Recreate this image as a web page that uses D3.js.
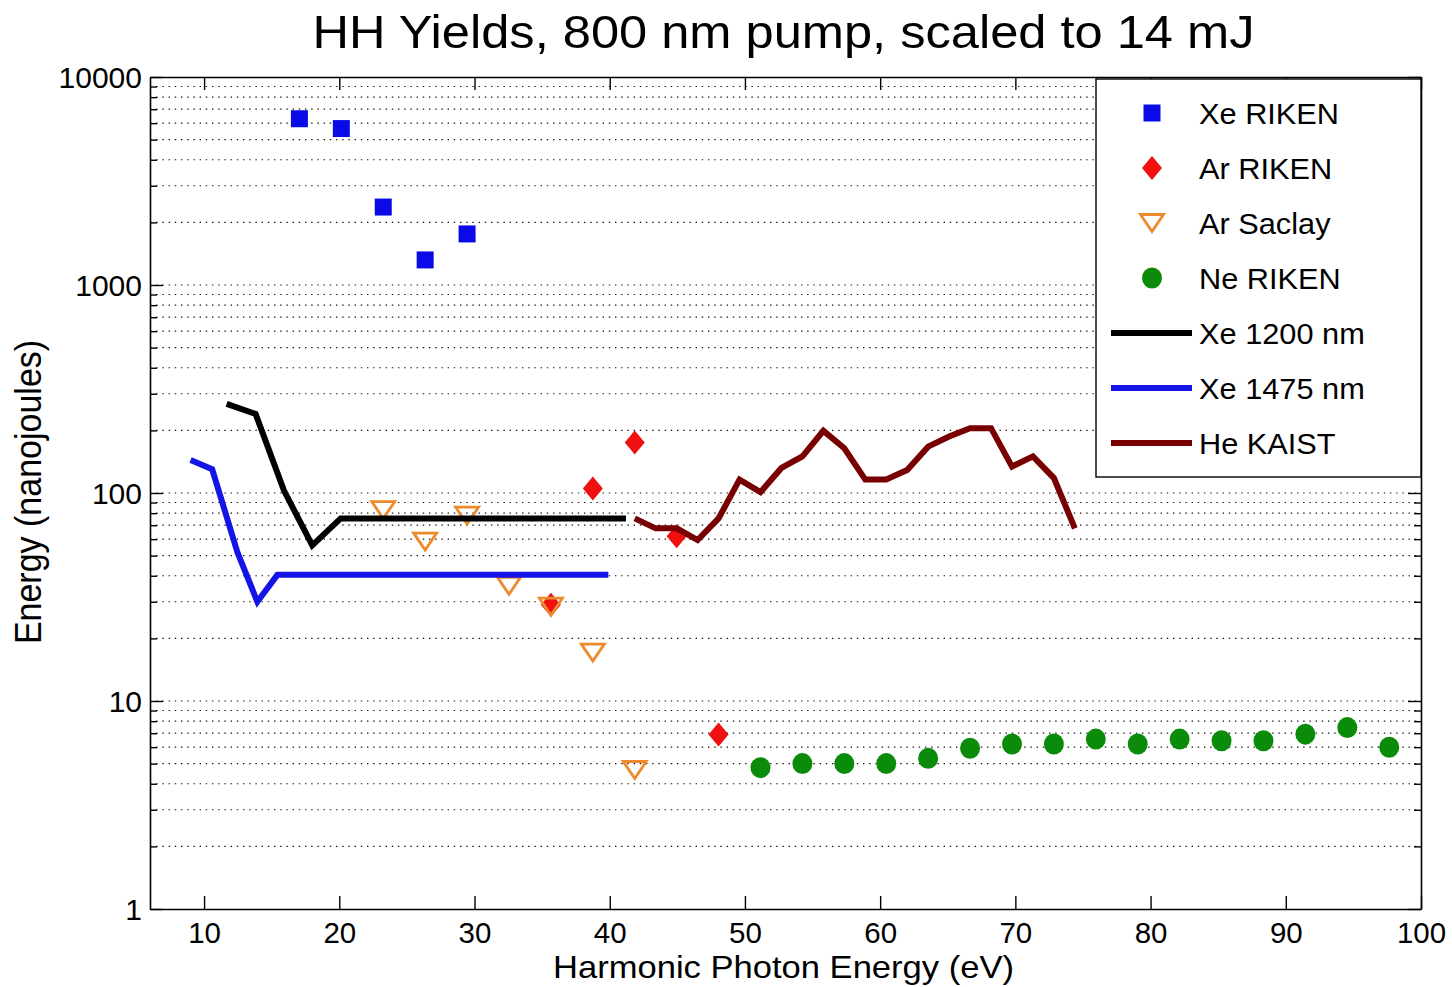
<!DOCTYPE html>
<html>
<head>
<meta charset="utf-8">
<script src="https://cdn.jsdelivr.net/npm/d3@7"></script>
<style>
  body { margin: 0; background: #fff; }
  svg text { font-family: "Liberation Sans", Arial, Helvetica, sans-serif; fill: #000; }
</style>
</head>
<body>
<svg id="chart" width="1452" height="987"></svg>
<script>
// ---- data (harmonic photon energy in eV, pulse energy in nJ) ----
const xeRikenX = [17.05, 20.15, 23.25, 26.35, 29.45];
const xeRikenY = [6300, 5650, 2370, 1320, 1760];

const arRikenX = [35.65, 38.75, 41.85, 44.95, 48.05];
const arRikenY = [29, 105, 175, 62, 6.9];

const arSaclayX = [23.25, 26.35, 29.45, 32.55, 35.65, 38.75, 41.85];
const arSaclayY = [82.8, 58.4, 77.9, 35.8, 28.4, 17.1, 4.66];

const neRikenX = [51.15, 54.25, 57.35, 60.45, 63.55, 66.65, 69.75, 72.85,
                  75.95, 79.05, 82.15, 85.25, 88.35, 91.45, 94.55, 97.65];
const neRikenY = [4.78, 5.0, 5.0, 5.0, 5.3, 5.93, 6.21, 6.21,
                  6.56, 6.21, 6.56, 6.44, 6.44, 6.93, 7.45, 5.99];

const xe1200X = [11.67, 13.81, 15.9, 18.0, 20.1, 41.2];
const xe1200Y = [268, 240, 103, 56, 75.5, 75.5];

const xe1475X = [9.0, 10.6, 12.46, 13.94, 15.42, 39.9];
const xe1475Y = [144, 130, 52, 30, 40.4, 40.4];

const heKaistX = [41.85, 43.4, 44.95, 46.5, 48.05, 49.6, 51.15, 52.7, 54.25, 55.8, 57.35,
                  58.9, 60.45, 62.0, 63.55, 65.1, 66.65, 68.2, 69.75, 71.3, 72.85, 74.4];
const heKaistY = [75.5, 67.6, 67.6, 59.4, 75.5, 116, 101, 132, 150, 199, 164,
                  116, 116, 129, 167, 187, 205, 205, 134, 150, 118, 67.6];

const xTicks = [10, 20, 30, 40, 50, 60, 70, 80, 90, 100];
const yTicks = [1, 10, 100, 1000, 10000];
const yTickLabels = ["1", "10", "100", "1000", "10000"];

const legendLabels = ["Xe RIKEN", "Ar RIKEN", "Ar Saclay", "Ne RIKEN",
                      "Xe 1200 nm", "Xe 1475 nm", "He KAIST"];

const titleText = "HH Yields, 800 nm pump, scaled to 14 mJ";
const xLabel = "Harmonic Photon Energy (eV)";
const yLabel = "Energy (nanojoules)";

// ---- styling ----
const C = {
  square: "#0a0ae6",
  diamond: "#f01010",
  tri: "#ec8a2c",
  circle: "#0a8c0a",
  xe1200: "#000000",
  xe1475: "#1414e6",
  he: "#780000"
};

const svg = d3.select("#chart");
svg.append("rect").attr("width", 1452).attr("height", 987).attr("fill", "#fff");

const L = 150, R = 1421, T = 77, B = 909;
const x = d3.scaleLinear().domain([6, 100]).range([L, R]);
const y = d3.scaleLog().domain([1, 10000]).range([B, T]);

// minor log positions 2..9 within each decade
const minorTicks = [];
[1, 10, 100, 1000].forEach(d => d3.range(2, 10).forEach(m => minorTicks.push(d * m)));

// dotted horizontal grid
const grid = svg.append("g");
grid.selectAll("line")
  .data(minorTicks.concat([10, 100, 1000]))
  .join("line")
  .attr("x1", L).attr("x2", R)
  .attr("y1", d => y(d)).attr("y2", d => y(d))
  .attr("stroke", "#111").attr("stroke-width", 1.2)
  .attr("stroke-dasharray", "1.4,4.8");

// axes
function styleAxis(g) {
  g.attr("font-size", null).attr("font-family", null);
  g.selectAll("path.domain").attr("stroke", "#000").attr("stroke-width", 1.6);
  g.selectAll(".tick line").attr("stroke", "#000").attr("stroke-width", 1.4);
}

const gBottom = svg.append("g").attr("transform", `translate(0,${B})`)
  .call(d3.axisBottom(x).tickValues(xTicks).tickSizeInner(-13).tickSizeOuter(0).tickFormat(d3.format("d")))
  .call(styleAxis);
gBottom.selectAll(".tick text")
  .attr("y", 34).attr("dy", 0)
  .attr("font-size", 29.5);

svg.append("g").attr("transform", `translate(0,${T})`)
  .call(d3.axisTop(x).tickValues(xTicks).tickSizeInner(-13).tickSizeOuter(0).tickFormat(""))
  .call(styleAxis);

const gLeft = svg.append("g").attr("transform", `translate(${L},0)`)
  .call(d3.axisLeft(y).tickValues(yTicks).tickSizeInner(-13).tickSizeOuter(0)
    .tickFormat((d, i) => yTickLabels[i]))
  .call(styleAxis);
gLeft.selectAll(".tick text")
  .attr("x", -8).attr("dy", "0.36em")
  .attr("font-size", 30);

svg.append("g").attr("transform", `translate(${L},0)`)
  .call(d3.axisLeft(y).tickValues(minorTicks).tickSizeInner(-7).tickSizeOuter(0).tickFormat(""))
  .call(styleAxis).call(g => g.select("path.domain").remove());

svg.append("g").attr("transform", `translate(${R},0)`)
  .call(d3.axisRight(y).tickValues(yTicks).tickSizeInner(-13).tickSizeOuter(0).tickFormat(""))
  .call(styleAxis);

svg.append("g").attr("transform", `translate(${R},0)`)
  .call(d3.axisRight(y).tickValues(minorTicks).tickSizeInner(-7).tickSizeOuter(0).tickFormat(""))
  .call(styleAxis).call(g => g.select("path.domain").remove());

// ---- marker shapes ----
const squarePath = (s) => `M${-s/2},${-s/2}h${s}v${s}h${-s}Z`;
const diamondPath = (w, h) => `M0,${-h}L${w},0L0,${h}L${-w},0Z`;
const triPath = (w, h) => `M${-w},${-h}L${w},${-h}L0,${h}Z`;

const zip = (xs, ys) => xs.map((v, i) => [v, ys[i]]);

const marks = svg.append("g");

marks.selectAll("path.sq").data(zip(xeRikenX, xeRikenY)).join("path")
  .attr("class", "sq")
  .attr("transform", d => `translate(${x(d[0])},${y(d[1])})`)
  .attr("d", squarePath(17)).attr("fill", C.square);

marks.selectAll("path.dm").data(zip(arRikenX, arRikenY)).join("path")
  .attr("class", "dm")
  .attr("transform", d => `translate(${x(d[0])},${y(d[1])})`)
  .attr("d", diamondPath(10, 12)).attr("fill", C.diamond);

marks.selectAll("path.tr").data(zip(arSaclayX, arSaclayY)).join("path")
  .attr("class", "tr")
  .attr("transform", d => `translate(${x(d[0])},${y(d[1])})`)
  .attr("d", triPath(11.5, 8.5)).attr("fill", "none")
  .attr("stroke", C.tri).attr("stroke-width", 2.8).attr("stroke-linejoin", "miter");

marks.selectAll("ellipse.ci").data(zip(neRikenX, neRikenY)).join("ellipse")
  .attr("class", "ci")
  .attr("cx", d => x(d[0])).attr("cy", d => y(d[1]))
  .attr("rx", 10).attr("ry", 10.5).attr("fill", C.circle);

// ---- line series ----
const line = d3.line().x(d => x(d[0])).y(d => y(d[1]));
const lines = [
  [zip(xe1200X, xe1200Y), C.xe1200],
  [zip(xe1475X, xe1475Y), C.xe1475],
  [zip(heKaistX, heKaistY), C.he]
];
svg.append("g").selectAll("path").data(lines).join("path")
  .attr("d", d => line(d[0]))
  .attr("fill", "none")
  .attr("stroke", d => d[1])
  .attr("stroke-width", 6)
  .attr("stroke-linejoin", "miter")
  .attr("stroke-miterlimit", 3);

// ---- legend ----
const lg = svg.append("g");
lg.append("rect")
  .attr("x", 1096).attr("y", 79).attr("width", R - 1096).attr("height", 398)
  .attr("fill", "#fff").attr("stroke", "#000").attr("stroke-width", 1.4);

const rowY = i => 113 + i * 55;
const mx = 1152;
legendLabels.forEach((lab, i) => {
  const cy = rowY(i);
  if (i === 0) lg.append("path").attr("transform", `translate(${mx},${cy})`).attr("d", squarePath(17)).attr("fill", C.square);
  if (i === 1) lg.append("path").attr("transform", `translate(${mx},${cy})`).attr("d", diamondPath(10, 12)).attr("fill", C.diamond);
  if (i === 2) lg.append("path").attr("transform", `translate(${mx},${cy})`).attr("d", triPath(11.5, 8.5))
    .attr("fill", "none").attr("stroke", C.tri).attr("stroke-width", 2.8);
  if (i === 3) lg.append("ellipse").attr("cx", mx).attr("cy", cy).attr("rx", 10).attr("ry", 10.5).attr("fill", C.circle);
  if (i >= 4) {
    const col = [C.xe1200, C.xe1475, C.he][i - 4];
    lg.append("line").attr("x1", 1111).attr("x2", 1192).attr("y1", cy).attr("y2", cy)
      .attr("stroke", col).attr("stroke-width", 6);
  }
  lg.append("text")
    .attr("transform", `translate(1199,${cy + 10.5}) scale(1.06,1)`)
    .attr("font-size", 29)
    .text(lab);
});

// ---- titles ----
svg.append("text")
  .attr("transform", `translate(${(L + R) / 2 - 2},48) scale(1.1,1)`)
  .attr("text-anchor", "middle").attr("font-size", 46)
  .text(titleText);

svg.append("text")
  .attr("transform", `translate(${(L + R) / 2 - 2},978) scale(1.08,1)`)
  .attr("text-anchor", "middle").attr("font-size", 32)
  .text(xLabel);

svg.append("text")
  .attr("transform", `translate(41,492) scale(1.1,1) rotate(-90)`)
  .attr("text-anchor", "middle").attr("font-size", 34)
  .text(yLabel);
</script>
</body>
</html>
